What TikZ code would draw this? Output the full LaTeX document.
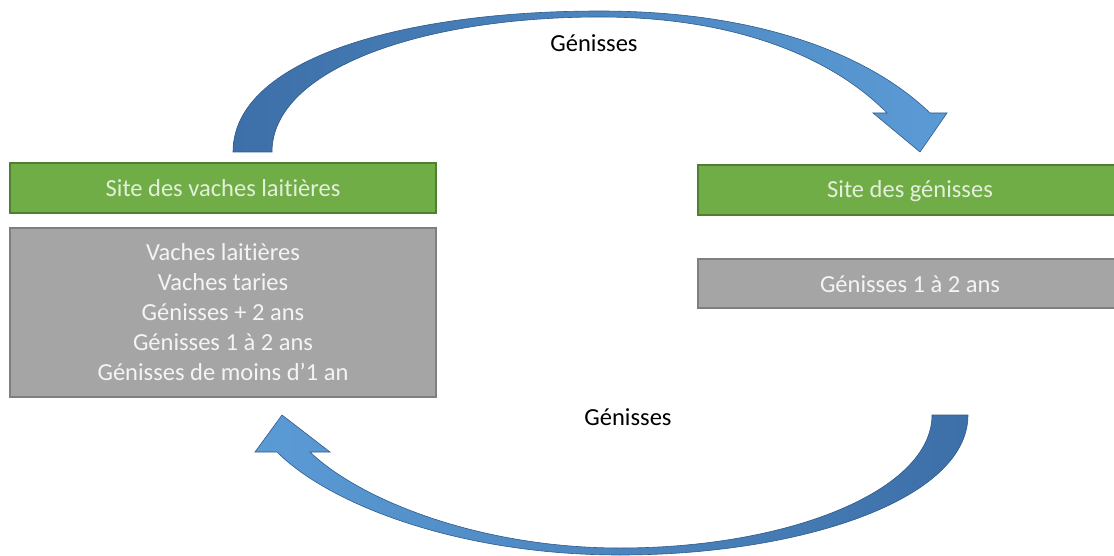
\documentclass[tikz,border=0pt]{standalone}
\usepackage{fontspec}
\setmainfont[RawFeature={-liga;-clig;-calt;-dlig}]{Carlito}
\definecolor{grn}{HTML}{70AD47}
\definecolor{grnb}{HTML}{507E32}
\definecolor{grntxt}{HTML}{E2F0D9}
\definecolor{gry}{HTML}{A5A5A5}
\definecolor{gryb}{HTML}{7F7F7F}
\definecolor{grytxt}{HTML}{F4F4F4}
\definecolor{bldark}{HTML}{3D6FA8}
\definecolor{bllight}{HTML}{5B9BD5}
\definecolor{blline}{HTML}{2F5A8C}
\tikzset{
  sitebox/.style={rectangle, fill=grn, draw=grnb, line width=1.5pt, text=grntxt, inner sep=0pt},
  graybox/.style={rectangle, fill=gry, draw=gryb, line width=1.5pt, text=grytxt, inner sep=0pt, align=center},
  lbl/.style={text=black, inner sep=0pt},
  bigarrow/.style={draw=blline, line width=0.6pt},
}
\begin{document}
\begin{tikzpicture}[x=1pt,y=-1pt, font=\fontsize{24.5pt}{30pt}\selectfont]
\useasboundingbox (0,0) rectangle (1114,556);
% boxes
\node[sitebox, minimum width=426pt, minimum height=50pt] (svl) at (223,188) {Site des vaches laitières};
\node[graybox, minimum width=426pt, minimum height=169pt] (gvl) at (223,312.5)
  {Vaches laitières\\Vaches taries\\Génisses + 2 ans\\Génisses 1 à 2 ans\\Génisses de moins d’1 an};
\node[sitebox, minimum width=420pt, minimum height=50pt, anchor=west] (sg) at (697,190) {};
\node[text=grntxt, inner sep=0pt] (sgt) at (910,191) {Site des génisses};
\node[graybox, minimum width=420pt, minimum height=49pt, anchor=west] (gg) at (697,283.5) {};
\node[text=grytxt, inner sep=0pt] (ggt) at (910,284) {Génisses 1 à 2 ans};
% labels
\node[lbl] (top) at (594,43) {Génisses};
\node[lbl] (bot) at (628,417) {Génisses};
% top curved arrow
\coordinate (tfo) at (233,152);
\coordinate (tfi) at (272,152);
\coordinate (ttip) at (920,152);
\path[bigarrow, left color=bldark, right color=bllight]
  (tfo) .. controls (233,60) and (400,11) .. (600,11)
  .. controls (760,11) and (870,55) .. (930,113)
  -- (947,113) -- (ttip) -- (873,113) -- (887,113)
  .. controls (835,60) and (740,17) .. (600,17)
  .. controls (420,17) and (272,70) .. (tfi) -- cycle;
% bottom curved arrow
\coordinate (bfo) at (968,415);
\coordinate (bfi) at (932,415);
\coordinate (btip) at (282,415);
\path[bigarrow, left color=bllight, right color=bldark]
  (bfo) .. controls (968,500) and (800,555) .. (620,555)
  .. controls (460,555) and (330,505) .. (277,452)
  -- (255,452) -- (btip) -- (330,452) -- (310,452)
  .. controls (360,500) and (480,548) .. (620,548)
  .. controls (790,548) and (932,490) .. (bfi) -- cycle;
\end{tikzpicture}
\end{document}
